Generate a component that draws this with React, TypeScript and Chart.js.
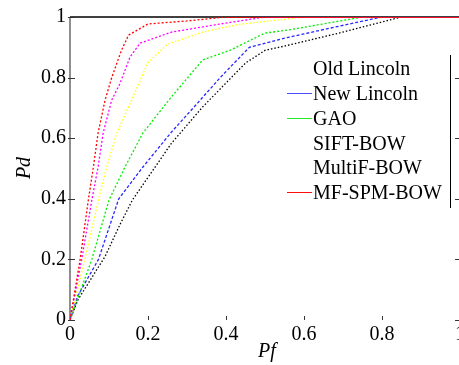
import React, { useEffect, useRef } from "react";
import { Chart, registerables } from "chart.js";

Chart.register(...registerables);

const seriesNames = ["Old Lincoln", "New Lincoln", "GAO", "SIFT-BOW", "MultiF-BOW", "MF-SPM-BOW"];
const seriesColors = ["#000000", "#2828ff", "#00ee00", "#ffff00", "#ff00ff", "#ff0000"];
const legendColors = ["#000000", "#4a4aff", "#22ee22", "#ffff00", "#ff00ff", "#ff1010"];
const legendLine = [false, true, true, false, false, true];

const oldPf = [0, 0.02, 0.09, 0.13, 0.16, 0.26, 0.34, 0.45, 0.5, 0.55, 0.69, 0.85, 1];
const oldPd = [0, 0.066, 0.21, 0.32, 0.396, 0.583, 0.703, 0.848, 0.89, 0.904, 0.947, 1, 1];

const newPf = [0, 0.02, 0.073, 0.125, 0.187, 0.26, 0.33, 0.385, 0.46, 0.55, 0.68, 0.8, 1];
const newPd = [0, 0.08, 0.2, 0.4, 0.505, 0.62, 0.72, 0.8, 0.9, 0.93, 0.967, 1, 1];

const gaoPf = [0, 0.056, 0.1, 0.141, 0.187, 0.256, 0.34, 0.41, 0.5, 0.56, 0.75, 1];
const gaoPd = [0, 0.2, 0.396, 0.505, 0.617, 0.73, 0.858, 0.89, 0.947, 0.957, 1, 1];

const siftPf = [0, 0.038, 0.073, 0.094, 0.12, 0.158, 0.2, 0.25, 0.34, 0.43, 0.6, 1];
const siftPd = [0, 0.2, 0.396, 0.505, 0.617, 0.726, 0.85, 0.91, 0.95, 0.975, 1, 1];

const multiPf = [0, 0.03, 0.056, 0.072, 0.085, 0.107, 0.128, 0.154, 0.18, 0.26, 0.385, 0.5, 1];
const multiPd = [0, 0.2, 0.396, 0.505, 0.617, 0.726, 0.78, 0.868, 0.914, 0.95, 0.977, 1, 1];

const mfPf = [0, 0.026, 0.047, 0.06, 0.072, 0.09, 0.107, 0.132, 0.15, 0.2, 0.3, 0.4, 1];
const mfPd = [0, 0.2, 0.396, 0.505, 0.617, 0.726, 0.8, 0.89, 0.94, 0.977, 0.987, 1, 1];

const xTicks = [0, 0.2, 0.4, 0.6, 0.8, 1];
const yTicks = [0, 0.2, 0.4, 0.6, 0.8, 1];

const allPf = [oldPf, newPf, gaoPf, siftPf, multiPf, mfPf];
const allPd = [oldPd, newPd, gaoPd, siftPd, multiPd, mfPd];
const dashes = [[1.5, 2], [3, 2], [2, 2], [1.5, 2], [2, 2], [2, 2]];

const FONT = '"Liberation Serif", "Times New Roman", Times, serif';
const FS = 20;

const decorPlugin = {
  id: "decor",
  beforeDatasetsDraw(chart: any) {
    const { ctx, chartArea } = chart;
    const x = chart.scales.x;
    const y = chart.scales.y;
    ctx.save();
    ctx.strokeStyle = "#000";
    ctx.lineWidth = 1.5;
    ctx.beginPath();
    ctx.moveTo(chartArea.left, chartArea.top);
    ctx.lineTo(chartArea.right, chartArea.top);
    ctx.stroke();
    ctx.strokeStyle = "#444";
    ctx.lineWidth = 1.2;
    ctx.beginPath();
    ctx.moveTo(chartArea.left, chartArea.top);
    ctx.lineTo(chartArea.left, chartArea.bottom);
    ctx.stroke();
    ctx.lineWidth = 1;
    ctx.strokeStyle = "#333";
    ctx.beginPath();
    yTicks.forEach((t) => {
      const py = Math.round(y.getPixelForValue(t)) + 0.5;
      ctx.moveTo(chartArea.left - 2, py);
      ctx.lineTo(chartArea.left + 5, py);
      ctx.moveTo(chartArea.right - 5, py);
      ctx.lineTo(chartArea.right, py);
    });
    xTicks.forEach((t) => {
      const px = Math.round(x.getPixelForValue(t)) + 0.5;
      ctx.moveTo(px, chartArea.bottom);
      ctx.lineTo(px, chartArea.bottom - 4);
    });
    ctx.stroke();
    ctx.restore();
  },
  afterDraw(chart: any) {
    const { ctx } = chart;
    ctx.save();
    ctx.fillStyle = "#fff";
    ctx.fillRect(284, 56, 165, 152);
    ctx.strokeStyle = "#000";
    ctx.lineWidth = 1;
    ctx.beginPath();
    ctx.moveTo(450.5, 55);
    ctx.lineTo(450.5, 208);
    ctx.stroke();
    ctx.font = `${FS}px ${FONT}`;
    ctx.textBaseline = "middle";
    ctx.textAlign = "left";
    seriesNames.forEach((name, i) => {
      const cy = 70 + i * 24.8;
      if (legendLine[i]) {
        ctx.strokeStyle = legendColors[i];
        ctx.lineWidth = 1;
        ctx.beginPath();
        ctx.moveTo(287, Math.round(cy - 2) + 0.5);
        ctx.lineTo(312, Math.round(cy - 2) + 0.5);
        ctx.stroke();
      }
      ctx.fillStyle = "#000";
      ctx.fillText(name, 313, cy);
    });
    ctx.font = `italic ${FS}px ${FONT}`;
    ctx.textAlign = "center";
    ctx.fillText("Pf", 267, 352);
    ctx.translate(25, 168);
    ctx.rotate(-Math.PI / 2);
    ctx.fillText("Pd", 0, 0);
    ctx.restore();
  },
};

export default function App() {
  const ref = useRef<HTMLCanvasElement | null>(null);
  useEffect(() => {
    if (!ref.current) return;
    const datasets = seriesNames.map((name, i) => ({
      label: name,
      data: allPf[i].map((pf, j) => ({ x: pf, y: allPd[i][j] })),
      borderColor: seriesColors[i],
      backgroundColor: seriesColors[i],
      borderWidth: 1.3,
      borderDash: dashes[i],
      pointRadius: 0,
      tension: 0,
      fill: false,
      order: 5 - i,
      segment: {
        borderDash: (c: any) => (c.p0.parsed.y >= 1 && c.p1.parsed.y >= 1 ? [] : dashes[i]),
      },
    }));
    const chart = new Chart(ref.current, {
      type: "line",
      data: { datasets },
      plugins: [decorPlugin],
      options: {
        animation: false,
        responsive: false,
        devicePixelRatio: 1,
        layout: { padding: { top: 17, right: 10, left: 0, bottom: 0 } },
        plugins: { legend: { display: false }, tooltip: { enabled: false } },
        scales: {
          x: {
            type: "linear",
            min: 0,
            max: 1,
            afterBuildTicks: (s: any) => {
              s.ticks = xTicks.map((v) => ({ value: v }));
            },
            afterFit: (s: any) => {
              s.height = 45;
            },
            ticks: {
              padding: 3,
              color: "#000",
              maxRotation: 0,
              autoSkip: false,
              font: { family: FONT, size: FS },
              callback: (v: any) => String(+Number(v).toFixed(1)),
            },
            grid: { display: false, drawTicks: false },
            border: { display: false },
          },
          y: {
            type: "linear",
            min: 0,
            max: 1,
            afterBuildTicks: (s: any) => {
              s.ticks = yTicks.map((v) => ({ value: v }));
            },
            afterFit: (s: any) => {
              s.width = 70;
            },
            ticks: {
              padding: 4,
              color: "#000",
              autoSkip: false,
              font: { family: FONT, size: FS },
              callback: (v: any) => String(+Number(v).toFixed(1)),
            },
            grid: { display: false, drawTicks: false },
            border: { display: false },
          },
        },
      },
    });
    return () => chart.destroy();
  }, []);
  return (
    <div
      style={{
        position: "fixed",
        left: 0,
        top: 0,
        width: 459,
        height: 365,
        overflow: "hidden",
        background: "#fff",
      }}
    >
      <canvas ref={ref} width={470} height={365} style={{ width: 470, height: 365, display: "block" }} />
    </div>
  );
}
